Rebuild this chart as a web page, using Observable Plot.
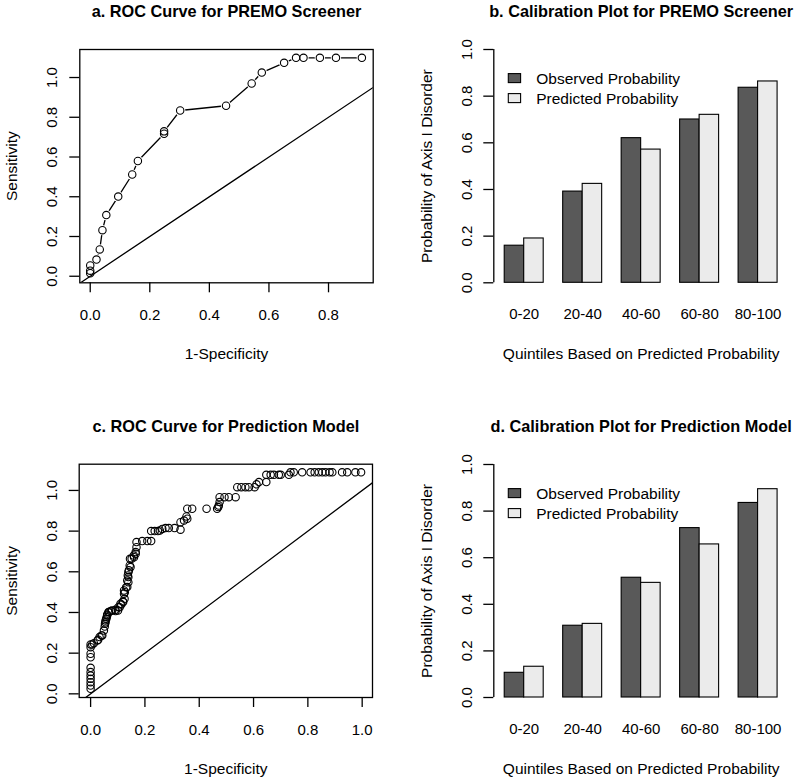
<!DOCTYPE html>
<html>
<head>
<meta charset="utf-8">
<script src="https://cdn.jsdelivr.net/npm/d3@7"></script>
<script src="https://cdn.jsdelivr.net/npm/@observablehq/plot@0.6"></script>
<style>
  body { margin: 0; background: #fff; }
  #grid { display: grid; grid-template-columns: 400px 400px; width: 800px; }
  #grid svg { overflow: visible; display: block; }
</style>
</head>
<body>
<div id="grid"></div>
<script>
// ---------- DATA ----------
// Panel a: ROC curve for PREMO screener (1-specificity, sensitivity)
const rocA_fpr = [0, 0, 0, 0.021, 0.032, 0.041, 0.054, 0.094, 0.141, 0.160, 0.248, 0.248, 0.302, 0.456, 0.542, 0.576, 0.651, 0.691, 0.716, 0.771, 0.825, 0.912];
const rocA_tpr = [0.015, 0.028, 0.054, 0.084, 0.135, 0.232, 0.308, 0.401, 0.512, 0.580, 0.717, 0.729, 0.834, 0.858, 0.970, 1.025, 1.074, 1.099, 1.099, 1.099, 1.099, 1.099];

// Panel c: ROC curve for prediction model
const rocC_fpr = [0, 0, 0, 0, 0, 0, 0, 0, 0, 0, 0,
  0.006, 0.012, 0.025, 0.028, 0.033, 0.040, 0.043, 0.049, 0.052, 0.053, 0.055, 0.055, 0.058, 0.059, 0.061, 0.061, 0.066, 0.067,
  0.074, 0.079, 0.091, 0.092, 0.101, 0.102, 0.107, 0.110, 0.113, 0.119, 0.120,
  0.123, 0.123, 0.125, 0.126, 0.131, 0.135, 0.135, 0.137, 0.139, 0.139, 0.139, 0.141, 0.144, 0.147, 0.145, 0.151, 0.159, 0.160, 0.166, 0.166, 0.169, 0.169,
  0.190, 0.209, 0.223, 0.223, 0.236, 0.248, 0.255, 0.264, 0.276, 0.288, 0.309, 0.331, 0.331, 0.344, 0.353, 0.356, 0.356, 0.374, 0.427, 0.466, 0.470, 0.472, 0.475, 0.475, 0.493, 0.509, 0.534,
  0.540, 0.555, 0.570, 0.583, 0.604, 0.611, 0.620, 0.647, 0.647, 0.663, 0.675, 0.693, 0.700, 0.730, 0.736, 0.748, 0.779, 0.810, 0.825, 0.840, 0.853, 0.865, 0.880, 0.890, 0.926, 0.945, 0.975, 0.996];
const rocC_tpr = [0.025, 0.041, 0.057, 0.074, 0.090, 0.107, 0.128, 0.180, 0.197, 0.229, 0.243,
  0.243, 0.249, 0.262, 0.266, 0.279, 0.287, 0.287, 0.311, 0.331, 0.344, 0.352, 0.361, 0.369, 0.377, 0.385, 0.390, 0.402, 0.401,
  0.407, 0.410, 0.413, 0.407, 0.410, 0.426, 0.426, 0.443, 0.439, 0.454, 0.451,
  0.492, 0.508, 0.467, 0.500, 0.524, 0.525, 0.557, 0.582, 0.549, 0.574, 0.598, 0.607, 0.631, 0.623, 0.664, 0.664, 0.680, 0.672, 0.689, 0.697, 0.721, 0.746,
  0.751, 0.751, 0.751, 0.800, 0.800, 0.800, 0.803, 0.811, 0.815, 0.815, 0.815, 0.807, 0.844, 0.852, 0.872, 0.861, 0.910, 0.910, 0.910, 0.910, 0.918, 0.926, 0.943, 0.967, 0.967, 0.967, 0.967,
  1.016, 1.016, 1.016, 1.016, 1.016, 1.030, 1.041, 1.041, 1.077, 1.077, 1.077, 1.077, 1.077, 1.077, 1.089, 1.089, 1.089, 1.089, 1.089, 1.089, 1.089, 1.089, 1.089, 1.089, 1.089, 1.089, 1.089, 1.089];

// Calibration plots
const quintiles = ["0-20", "20-40", "40-60", "60-80", "80-100"];
const seriesNames = ["Observed Probability", "Predicted Probability"];
const calibB_observed  = [0.159, 0.391, 0.620, 0.700, 0.836];
const calibB_predicted = [0.190, 0.424, 0.571, 0.720, 0.863];
const calibD_observed  = [0.106, 0.308, 0.514, 0.727, 0.835];
const calibD_predicted = [0.132, 0.316, 0.492, 0.657, 0.894];

// Tick values
const rocA_xTicks = [0, 0.2, 0.4, 0.6, 0.8];
const rocC_xTicks = [0, 0.2, 0.4, 0.6, 0.8, 1.0];
const rocYTicks = [0, 0.2, 0.4, 0.6, 0.8, 1.0];
const calibYTicks = [0, 0.2, 0.4, 0.6, 0.8, 1.0];

// Text
const titles = [
  "a. ROC Curve for PREMO Screener",
  "b. Calibration Plot for PREMO Screener",
  "c. ROC Curve for Prediction Model",
  "d. Calibration Plot for Prediction Model"
];
const rocXLabel = "1-Specificity";
const rocYLabel = "Sensitivity";
const calibXLabel = "Quintiles Based on Predicted Probability";
const calibYLabel = "Probability of Axis I Disorder";
const refLine = {intercept: 0, slope: 1};

// ---------- STYLE ----------
const FONT = "'Liberation Sans', Arial, Helvetica, sans-serif";
const barColors = ["#595959", "#ebebeb"];
const fmt = d3.format(".1f");
const LW = 1.3;

function rocPanel({title, fpr, tpr, xTicks, xDomain, yDomain, connect, height, margin}) {
  const pts = fpr.map((x, i) => ({x, y: tpr[i]}));
  const diag = xDomain.map(x => ({x, y: refLine.intercept + refLine.slope * x}));
  const marks = [];
  if (connect) {
    marks.push(Plot.line(pts, {x: "x", y: "y", stroke: "black", strokeWidth: LW}));
    marks.push(Plot.dot(pts, {x: "x", y: "y", r: 5.2, fill: "white", stroke: "none"}));
  }
  marks.push(
    Plot.line(diag, {x: "x", y: "y", stroke: "black", strokeWidth: LW, clip: true}),
    Plot.dot(pts, {x: "x", y: "y", r: 3.7, fill: "none", stroke: "black", strokeWidth: 1.1}),
    Plot.frame({stroke: "black", strokeWidth: LW}),
    Plot.axisX(xTicks, {label: null, tickSize: 10, tickPadding: 16.7, fontSize: 15, tickFormat: fmt, strokeWidth: LW}),
    Plot.axisY(rocYTicks, {label: null, tickSize: 10, tickFormat: () => "", strokeWidth: LW}),
    Plot.text(rocYTicks, {y: d => d, text: fmt, frameAnchor: "left", dx: -27.4, rotate: -90,
      textAnchor: "middle", lineAnchor: "middle", fontSize: 15}),
    Plot.text([title], {frameAnchor: "top", dy: -37.4, fontWeight: "bold", fontSize: 16.3, textAnchor: "middle", lineAnchor: "middle"}),
    Plot.text([rocXLabel], {frameAnchor: "bottom", dy: 71.6, fontSize: 15.5, textAnchor: "middle", lineAnchor: "middle"}),
    Plot.text([rocYLabel], {frameAnchor: "left", dx: -67.4, rotate: -90, fontSize: 15.5, textAnchor: "middle", lineAnchor: "middle"})
  );
  return Plot.plot({
    width: 400, height,
    marginLeft: margin.left, marginRight: margin.right, marginTop: margin.top, marginBottom: margin.bottom,
    x: {domain: xDomain, axis: null},
    y: {domain: yDomain, axis: null},
    style: {fontFamily: FONT, color: "black", background: "white", overflow: "visible"},
    marks
  });
}

function calibPanel({title, observed, predicted, height, margin}) {
  // barplot(beside = TRUE, space = c(0, 1)): bar width 1, one gap unit before each group
  const rows = [];
  quintiles.forEach((q, i) => {
    [observed[i], predicted[i]].forEach((v, s) => {
      rows.push({quintile: q, series: seriesNames[s], value: v, x1: 3 * i + 1 + s, x2: 3 * i + 2 + s});
    });
  });
  const centers = quintiles.map((q, i) => ({quintile: q, x: 3 * i + 2}));
  const nUnits = quintiles.length * 3 - 1;
  const xDomain = [1 - 0.04 * nUnits, 1 + nUnits + 0.04 * nUnits];
  const frameW = 400 - margin.left - margin.right;
  const frameH = height - margin.top - margin.bottom;
  const legend = seriesNames.flatMap((name, i) => [
    Plot.rect([name], {fill: barColors[i], stroke: "black", strokeWidth: 1.1,
      insetLeft: 15, insetRight: frameW - 15 - 12.3,
      insetTop: 24.6 + 20 * i, insetBottom: frameH - (24.6 + 20 * i) - 9}),
    Plot.text([name], {frameAnchor: "top-left", dx: 42.4, dy: 29.1 + 20 * i, textAnchor: "start",
      lineAnchor: "middle", fontSize: 15.5})
  ]);
  return Plot.plot({
    width: 400, height,
    marginLeft: margin.left, marginRight: margin.right, marginTop: margin.top, marginBottom: margin.bottom,
    x: {domain: xDomain, axis: null},
    y: {domain: [calibYTicks[0], calibYTicks[calibYTicks.length - 1]], axis: null},
    color: {domain: seriesNames, range: barColors},
    style: {fontFamily: FONT, color: "black", background: "white", overflow: "visible"},
    marks: [
      Plot.rect(rows, {x1: "x1", x2: "x2", y1: 0, y2: "value", fill: "series", stroke: "black", strokeWidth: 1.1}),
      Plot.ruleX([xDomain[0]], {y1: calibYTicks[0], y2: calibYTicks[calibYTicks.length - 1], stroke: "black", strokeWidth: LW}),
      Plot.axisY(calibYTicks, {label: null, tickSize: 10, tickFormat: () => "", strokeWidth: LW}),
      Plot.text(calibYTicks, {y: d => d, text: fmt, frameAnchor: "left", dx: -27, rotate: -90,
        textAnchor: "middle", lineAnchor: "middle", fontSize: 15}),
      Plot.text(centers, {x: "x", text: "quintile", frameAnchor: "bottom", dy: 31.8, textAnchor: "middle", lineAnchor: "middle", fontSize: 15}),
      ...legend,
      Plot.text([title], {frameAnchor: "top", dy: -37.4, fontWeight: "bold", fontSize: 16.3, textAnchor: "middle", lineAnchor: "middle"}),
      Plot.text([calibXLabel], {frameAnchor: "bottom", dy: 71.6, fontSize: 15.5, textAnchor: "middle", lineAnchor: "middle"}),
      Plot.text([calibYLabel], {frameAnchor: "left", dx: -66.6, rotate: -90, fontSize: 15.5, textAnchor: "middle", lineAnchor: "middle"})
    ]
  });
}

const grid = document.getElementById("grid");
grid.append(
  rocPanel({title: titles[0], fpr: rocA_fpr, tpr: rocA_tpr, xTicks: rocA_xTicks,
    xDomain: [-0.035, 0.950], yDomain: [-0.033, 1.141], connect: true, height: 390,
    margin: {left: 79.3, right: 27.3, top: 49, bottom: 107.7}}),
  calibPanel({title: titles[1], observed: calibB_observed, predicted: calibB_predicted, height: 390,
    margin: {left: 93.3, right: 12, top: 49, bottom: 107.7}}),
  rocPanel({title: titles[2], fpr: rocC_fpr, tpr: rocC_tpr, xTicks: rocC_xTicks,
    xDomain: [-0.042, 1.038], yDomain: [-0.018, 1.129], connect: false, height: 393,
    margin: {left: 78.7, right: 28, top: 73.7, bottom: 86}}),
  calibPanel({title: titles[3], observed: calibD_observed, predicted: calibD_predicted, height: 393,
    margin: {left: 93.3, right: 12, top: 74, bottom: 86}})
);
</script>
</body>
</html>
